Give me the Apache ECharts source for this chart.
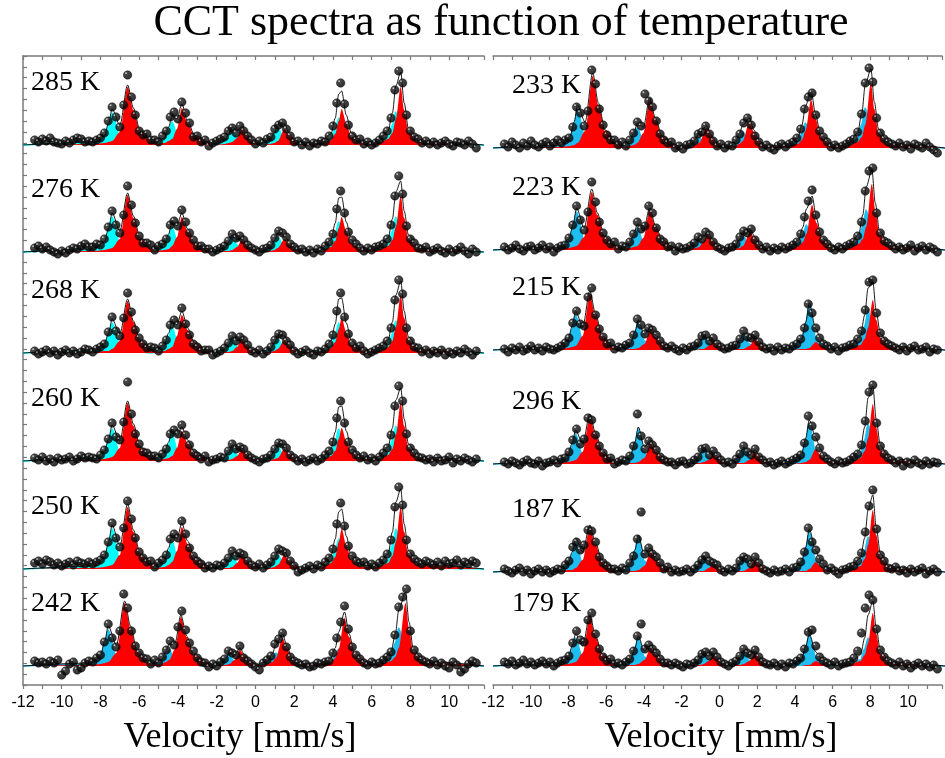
<!DOCTYPE html>
<html>
<head>
<meta charset="utf-8">
<script src="https://cdn.jsdelivr.net/npm/echarts@6/dist/echarts.min.js"></script>
<style>html,body{margin:0;padding:0;background:#fff}#chart{width:945px;height:758px}</style>
</head>
<body>
<div id="chart"></div>
<script>
// Mössbauer spectra of CCT at twelve temperatures: measured counts (dots),
// the two fitted sextet subspectra (site A, site B) and their sum (fit line).

// equally spaced velocity channels of the measured spectra [mm/s]
const channelStart = -11.4;
const channelStep = 0.2;
const channelCount = 115;

// velocity tick labels of the bottom axes
const velocityTicks = [-12, -10, -8, -6, -4, -2, 0, 2, 4, 6, 8, 10];

const temperaturesLeft = ['285 K', '276 K', '268 K', '260 K', '250 K', '242 K'];
const temperaturesRight = ['233 K', '223 K', '215 K', '296 K', '187 K', '179 K'];

// velocities at which the fitted subspectra are tabulated
const knotsWarm = [-12, -8.3,-7.8,-7.58,-7.4,-7.0,-6.6,-6.3,-5.95,-5.3, -5.2,-4.7,-4.48,-4.3,-4.05,-3.8,-3.5,-3.15,-2.4, -2.1,-1.6,-1.38,-1.2,-0.95,-0.7,-0.46,-0.2,0.2, 0.25,0.75,0.97,1.15,1.5,1.74,2.0,2.4, 3.4,3.9,4.12,4.3,4.45,4.69,4.95,5.55, 6.35,6.85,7.07,7.25,7.5,7.68,7.9,8.4, 11.8];
const knots242 = [-12, -8.5,-8.0,-7.78,-7.6,-7.18,-6.75,-6.45,-6.1,-5.45, -5.35,-4.85,-4.63,-4.45,-4.15,-3.85,-3.55,-3.2,-2.45, -2.25,-1.75,-1.53,-1.35,-1.08,-0.8,-0.56,-0.3,0.1, 0.15,0.65,0.87,1.05,1.4,1.64,1.9,2.3, 3.4,3.9,4.12,4.3,4.6,4.84,5.1,5.7, 6.5,7.0,7.22,7.4,7.75,7.93,8.15,8.65, 11.8];
const knots233 = [-12, -8.45,-7.95,-7.73,-7.55,-7.15,-6.75,-6.45,-6.1,-5.45, -5.3,-4.8,-4.58,-4.4,-4.08,-3.75,-3.45,-3.1,-2.35, -2.05,-1.55,-1.33,-1.15,-0.75,-0.51,-0.25,0.15, 0.25,0.75,0.97,1.15,1.5,1.74,2.0,2.4, 3.55,4.05,4.27,4.45,4.75,4.99,5.25,5.85, 6.7,7.2,7.42,7.6,7.9,8.08,8.3,8.8, 11.8];
const knots223 = [-12, -8.5,-8.0,-7.78,-7.6,-7.2,-6.8,-6.5,-6.15,-5.5, -5.3,-4.8,-4.58,-4.4,-4.08,-3.75,-3.45,-3.1,-2.35, -2.05,-1.55,-1.33,-1.15,-0.93,-0.7,-0.46,-0.2,0.2, 0.25,0.75,0.97,1.15,1.55,1.79,2.05,2.45, 3.6,4.1,4.32,4.5,4.8,5.04,5.3,5.9, 6.75,7.25,7.47,7.65,7.95,8.13,8.35,8.85, 11.8];
const knotsCold = [-12, -8.55,-8.05,-7.83,-7.65,-7.28,-6.9,-6.6,-6.25,-5.6, -5.25,-4.75,-4.53,-4.35,-4.03,-3.7,-3.4,-3.05,-2.3, -1.8,-1.3,-1.08,-0.9,-0.65,-0.4,-0.16,0.1,0.3, 0.5,0.8,1.02,1.2,1.5,1.8,2.04,2.3,2.8, 3.75,4.25,4.47,4.65,5.0,5.24,5.5,6.1, 6.85,7.35,7.57,7.75,8.0,8.18,8.4,8.9, 11.8];

// ---- 285 K
const counts285 = [5,3,6,4,7,3,2,1,4,2,5,7,6,3,4, 3,5,7,12,24,38,28,18,40,70,48,30,14,10,11, 5,5,3,9,14,28,33,26,43,32, 22,8,9,3,5,-1,2,4,6,8, 14,17,12,19,14,9,5,1,4,2, 6,8,16,20,22,16,9,3,4,0, 3,-1,2,1,4,3,9,19,42,62, 41,20,9,5,6,1,3,0,2,5, 9,14,27,55,74,62,30,14,8,6, 2,4, 1,3,0,2,4,1,-1,3,2,0,4,1,-3];
const siteA285 = [0, 2,7,19,32,7,2,2,1,1, 1,5,14,23,10,4,2,1,1, 1,3,9,15,7,2,1,1,0, 1,4,10,17,5,2,1,1, 2,6,16,27,18,8,4,1, 2,8,20,33,15,7,3,1, 0];
const siteB285 = [0, 1,2,3,4,13,58,35,13,3, 1,2,4,6,16,37,22,9,2, 0,1,2,3,7,17,10,4,1, 0,1,2,4,16,10,4,1, 2,5,11,24,36,22,8,2, 2,6,12,26,58,35,13,3, 0];
// ---- 276 K
const counts276 = [4,6,3,5,2,0,-2,1,-1,2,4,3,6,8,5, 5,8,7,13,25,41,27,19,37,66,47,29,16,9,9, 7,2,6,8,13,27,31,26,42,30, 19,12,6,6,3,3,0,2,4,6, 11,18,14,16,12,7,4,2,0,3, 4,7,14,21,19,15,8,5,2,3, 0,2,-1,3,1,6,10,18,43,61, 39,20,12,8,4,1,4,2,5,6, 8,13,27,56,76,58,26,13,9,4, 3,5, 0,2,4,1,-1,3,0,2,5,1,-2,3,0];
const siteA276 = [0, 2,8,21,35,8,2,2,1,1, 2,6,15,25,11,4,2,1,1, 1,3,9,15,7,2,1,1,0, 1,3,9,15,4,2,1,0, 2,7,18,30,20,9,4,1, 2,8,21,35,15,7,4,1, 0];
const siteB276 = [0, 1,2,3,4,13,57,34,13,3, 1,2,3,6,15,35,21,8,2, 0,1,1,2,5,12,7,3,1, 0,1,2,4,13,8,3,1, 1,5,11,24,35,21,8,2, 2,6,12,25,56,34,13,3, 0];
// ---- 268 K
const counts268 = [2,-1,1,3,0,2,-2,1,3,0,2,-1,1,4,3, 1,4,6,9,21,36,22,17,35,60,41,23,15,9,5, 6,5,2,7,13,28,33,28,45,29, 18,9,6,2,3,3,-2,0,2,5, 10,17,12,16,13,8,2,0,3,-1, 2,6,13,19,18,12,8,2,-1,1, 3,0,-2,2,1,4,9,18,42,60, 36,19,10,5,7,2,-1,1,3,5, 7,12,25,53,73,59,25,12,6,5, 1,3, -1,2,0,3,-2,1,-1,2,0,4,1,-2,2];
const siteA268 = [0, 2,7,18,30,7,2,1,1,0, 2,6,16,26,11,4,2,1,1, 1,3,8,14,6,2,1,1,0, 1,3,8,14,4,2,1,0, 2,7,18,30,20,9,4,1, 2,7,19,32,14,7,3,1, 0];
const siteB268 = [0, 1,2,2,4,12,52,31,12,3, 1,2,4,6,17,38,23,9,2, 0,1,1,2,6,14,8,3,1, 0,1,2,4,13,8,3,1, 1,5,11,24,35,21,8,2, 2,6,12,26,58,35,13,3, 0];
// ---- 260 K
const counts260 = [3,1,4,0,2,-1,3,1,2,4,0,2,5,3,4, 3,2,6,11,22,38,24,21,39,79,47,27,17,9,8, 5,5,3,7,12,27,31,27,36,26, 16,8,5,2,5,-1,1,2,4,3, 10,17,12,14,12,6,3,1,-1,2, 3,6,12,18,17,13,6,3,0,2, -1,1,3,0,2,6,10,19,43,60, 38,19,11,6,3,5,1,3,0,4, 8,13,26,55,75,60,27,13,8,4, 3,1, 2,-1,3,0,1,4,-2,2,0,3,1,-1,2];
const siteA260 = [0, 2,7,19,32,7,2,2,1,1, 2,6,16,27,12,4,3,2,1, 1,3,8,14,6,2,1,1,0, 1,3,8,14,4,2,1,0, 2,7,19,32,22,10,4,1, 2,8,21,35,15,7,4,1, 0];
const siteB260 = [0, 1,2,3,4,13,58,35,13,3, 1,2,3,5,13,30,18,7,2, 0,1,1,2,5,12,7,3,1, 0,1,2,3,12,7,3,1, 1,5,10,22,33,20,8,2, 2,6,12,26,58,35,13,3, 0];
// ---- 250 K
const counts250 = [6,8,5,9,7,4,6,3,5,7,4,8,6,5,7, 5,7,9,14,27,46,31,22,41,68,50,31,17,11,7, 8,2,6,9,14,30,35,31,48,35, 21,13,8,5,1,3,1,4,3,6, 11,18,13,16,14,8,4,2,5,1, 4,7,13,20,18,16,8,3,-3,-1, 1,3,0,4,2,7,11,20,45,66, 43,23,13,8,6,7,3,5,2,6, 9,15,29,62,82,64,29,15,10,7, 5,8, 6,4,7,3,8,5,6,9,4,7,5,8,6];
const siteA250 = [0, 2,9,24,40,9,3,2,1,1, 2,6,17,28,12,4,3,2,1, 1,3,8,14,6,2,1,1,0, 1,3,8,14,4,2,1,0, 2,7,18,30,20,9,4,1, 2,9,24,40,18,8,4,1, 0];
const siteB250 = [0, 1,2,3,4,14,62,37,14,4, 1,2,4,7,18,42,25,10,3, 0,1,1,2,6,14,8,3,1, 0,1,2,4,14,8,3,1, 2,6,12,27,40,24,9,2, 2,6,13,27,62,37,14,4, 0];
// ---- 242 K
const counts242 = [5,3,4,2,5,3,6,-9,-5,2,4,-4,-2,3,5, 4,8,11,24,42,28,19,35,72,58,35,20,13,8,7, 2,6,3,9,16,25,21,39,55,36, 23,15,8,4,3,-1,2,0,4,7, 15,13,11,20,8,5,2,-1,-4,3, 6,10,22,27,33,19,9,5,3,1, 2,-1,0,3,2,4,5,13,28,44, 60,37,19,11,7,3,1,4,2,3, 6,9,14,31,59,69,77,35,16,9, 6,4, 2,5,1,3,0,-2,4,1,-6,-3,2,5,3];
const siteA242 = [0, 2,8,22,36,8,2,2,1,1, 1,4,10,16,6,2,1,1,0, 1,3,7,11,4,2,1,1,0, 1,3,8,13,4,2,1,0, 1,4,10,17,6,3,2,1, 2,9,23,38,11,6,3,1, 0];
const siteB242 = [0, 1,2,3,4,13,63,38,14,4, 1,2,4,6,17,49,29,11,3, 0,1,1,2,6,16,10,4,1, 1,2,4,8,28,17,6,2, 2,4,8,17,48,29,11,3, 2,5,9,18,63,38,14,4, 0];
// ---- 233 K
const counts233 = [4,1,6,3,0,5,2,7,3,1,4,6,2,5,8, 5,8,10,21,41,35,22,37,78,64,39,23,13,8,8, 3,6,2,8,15,26,22,54,47,41, 27,14,8,5,6,0,2,-1,3,4, 7,14,16,22,14,7,2,4,0,3, 2,8,14,25,30,23,12,6,1,3, 0,-2,2,4,1,4,6,10,19,39, 51,55,33,17,11,6,1,3,0,2, 4,7,9,16,34,65,80,66,30,15, 9,6, 4,2,5,1,3,-1,4,2,0,5,1,-2,-5];
const siteA233 = [0, 2,9,23,38,9,3,2,1,1, 1,5,12,20,6,2,1,1,0, 1,2,6,10,2,1,1,0, 1,4,10,16,4,2,1,0, 2,6,15,25,9,4,2,1, 2,9,24,40,14,7,4,1, 0];
const siteB233 = [0, 1,2,3,5,17,72,43,17,4, 1,2,3,5,15,48,29,11,3, 1,1,3,5,20,12,5,1, 1,2,4,7,26,16,6,2, 2,4,8,17,48,29,11,3, 2,6,11,23,65,39,15,4, 0];
// ---- 223 K
const counts223 = [3,0,2,5,1,-1,3,4,0,2,5,1,3,-2,2, 4,5,12,25,44,30,20,38,68,48,28,17,10,6,8, 1,4,3,8,16,28,21,24,44,37, 22,11,8,3,4,-1,3,1,2,4, 7,13,11,18,15,8,3,1,-1,2, 3,6,13,19,17,21,10,5,1,3, -1,2,0,3,1,3,5,8,16,33, 49,60,35,18,10,6,2,0,3,1, 4,6,8,14,28,59,79,82,37,17, 9,7, 4,1,3,0,2,5,-1,2,4,0,3,1,-2];
const siteA223 = [0, 2,9,23,38,9,3,2,1,1, 1,5,13,22,7,2,1,1,0, 1,2,6,10,5,2,1,1,0, 1,3,8,14,3,2,1,0, 2,6,15,25,9,4,2,1, 2,9,24,40,14,7,4,1, 0];
const siteB223 = [0, 1,2,3,4,13,58,35,13,3, 1,2,3,4,12,40,24,9,2, 0,1,2,3,8,16,10,4,1, 1,1,2,4,18,11,4,1, 1,4,8,16,45,27,10,3, 2,6,11,23,66,40,15,4, 0];
// ---- 215 K
const counts215 = [1,-2,2,0,3,-1,1,4,0,2,-1,3,1,0,2, 4,7,12,27,39,26,24,53,62,35,21,13,6,7,1, 3,2,5,7,15,31,25,16,22,20, 15,9,4,2,4,1,-1,2,0,3, 4,7,14,15,9,12,6,3,1,2, 4,5,11,19,13,12,15,8,3,1, 2,-1,3,0,2,1,4,6,11,22, 46,37,22,12,6,4,1,3,-1,2, 3,5,6,11,19,40,68,70,37,17, 9,6, 4,2,0,3,-1,2,4,0,1,3,-2,1,0];
const siteA215 = [0, 2,8,21,35,9,3,2,1,1, 2,6,17,28,9,3,2,1,1, 1,3,8,14,6,2,1,1,0, 1,4,10,16,6,2,1,1,0, 3,10,27,45,13,7,4,1, 2,9,24,40,18,8,4,1, 0];
const siteB215 = [0, 1,2,3,4,14,56,34,13,3, 0,1,1,2,6,20,12,5,1, 0,0,1,1,4,8,5,2,1, 0,1,1,1,4,12,7,3,1, 0,1,1,2,8,5,2,0, 2,5,11,22,50,30,12,3, 0];
// ---- 296 K
const counts296 = [2,0,3,1,-1,2,4,1,0,3,-2,1,2,4,1, 5,6,12,24,35,20,25,46,44,29,18,11,5,6,0, 2,4,3,8,18,50,28,15,23,19, 14,7,4,2,2,-1,2,3,0,1, 4,7,15,16,9,13,8,4,1,2, 0,5,10,18,12,9,15,7,4,1, 2,-1,1,3,0,2,4,6,9,21, 48,38,27,16,8,5,2,0,3,1, 2,4,7,10,19,43,72,79,41,18, 10,6, 4,1,3,-2,2,0,4,1,-1,3,0,2,1];
const siteA296 = [0, 2,7,18,30,8,2,2,1,1, 2,8,21,35,11,4,2,1,1, 1,3,9,15,7,2,1,1,0, 1,4,10,16,6,2,1,1,0, 2,9,24,40,11,6,3,1, 2,9,24,40,18,8,4,1, 0];
const siteB296 = [0, 1,2,3,4,12,48,29,11,3, 0,1,1,2,6,20,12,5,1, 0,1,1,2,4,10,6,2,1, 0,1,1,1,4,12,7,3,1, 0,1,2,4,15,9,3,1, 2,6,13,26,60,36,14,4, 0];
// ---- 187 K
const counts187 = [3,1,-1,2,4,0,2,-2,1,3,0,2,-1,1,3, 2,7,11,25,30,22,27,42,41,30,15,9,6,3,3, 1,4,2,9,16,33,60,18,24,18, 15,9,3,5,0,2,0,1,3,0, 3,7,12,16,11,9,7,2,0,3, 1,4,11,15,13,8,15,9,3,1, -1,2,0,1,3,0,4,5,10,20, 44,30,22,13,8,2,4,1,-2,2, 3,5,6,11,19,40,66,82,43,17, 11,4, 3,5,1,2,-1,3,0,2,4,-2,1,3,0];
const siteA187 = [0, 2,7,18,30,8,2,2,1,1, 2,8,21,35,11,4,2,1,1, 1,3,9,15,7,2,1,1,0, 1,3,9,15,5,2,1,1,0, 2,9,24,40,11,6,3,1, 2,8,21,35,15,7,4,1, 0];
const siteB187 = [0, 1,2,2,4,12,45,27,10,3, 0,1,1,2,6,20,12,5,1, 0,0,1,1,4,8,5,2,1, 0,1,1,1,4,12,7,3,1, 0,1,1,3,10,6,2,1, 2,6,13,27,62,37,14,4, 0];
// ---- 179 K
const counts179 = [4,2,5,1,3,6,2,4,1,3,5,2,4,0,3, 5,6,10,23,35,26,24,46,53,32,17,9,5,7,2, 3,1,4,7,15,30,42,17,21,17, 13,7,3,3,1,3,1,-1,2,1, 3,6,12,14,10,14,9,4,2,0, 3,5,10,17,13,11,16,9,4,2, 1,3,0,2,-1,3,2,5,8,17, 34,36,20,9,5,3,1,4,0,2, 3,4,8,15,33,58,71,66,37,16, 9,5, 3,1,4,0,2,-2,1,3,0,2,-1,1,-3];
const siteA179 = [0, 2,6,17,28,7,2,1,1,0, 2,6,17,28,9,3,2,1,1, 1,3,7,11,5,2,1,1,0, 1,3,8,14,5,2,1,1,0, 2,7,19,31,9,5,2,1, 2,6,17,28,12,6,3,1, 0];
const siteB179 = [0, 1,2,3,4,13,49,29,11,3, 0,1,1,2,6,18,11,4,1, 0,1,1,2,5,11,7,3,1, 0,1,1,2,5,13,8,3,1, 0,0,1,1,5,3,1,0, 2,5,11,23,53,32,12,3, 0];

// ---------------------------------------------------------------- layout
const colLeft = [23, 493];          // px, left edge of each column frame
const colWidth = [461, 459];        // px
const frameTop = 56, frameBottom = 685;
const rowBase = [                   // px, zero-absorption line of each row
  [145, 252, 353, 461, 569, 666],
  [148, 250, 350, 464, 572, 666]
];
const labelX = [31, 512];
const CYAN = '#00ffff', SKY = '#1ebef0', RED = '#ff0000';

const panels = [
  { label: temperaturesLeft[0], col: 0, row: 0, knots: knotsWarm, counts: counts285, siteA: siteA285, siteB: siteB285, fillA: CYAN },
  { label: temperaturesLeft[1], col: 0, row: 1, knots: knotsWarm, counts: counts276, siteA: siteA276, siteB: siteB276, fillA: CYAN },
  { label: temperaturesLeft[2], col: 0, row: 2, knots: knotsWarm, counts: counts268, siteA: siteA268, siteB: siteB268, fillA: CYAN },
  { label: temperaturesLeft[3], col: 0, row: 3, knots: knotsWarm, counts: counts260, siteA: siteA260, siteB: siteB260, fillA: CYAN },
  { label: temperaturesLeft[4], col: 0, row: 4, knots: knotsWarm, counts: counts250, siteA: siteA250, siteB: siteB250, fillA: CYAN },
  { label: temperaturesLeft[5], col: 0, row: 5, knots: knots242, counts: counts242, siteA: siteA242, siteB: siteB242, fillA: SKY },
  { label: temperaturesRight[0], col: 1, row: 0, knots: knots233, counts: counts233, siteA: siteA233, siteB: siteB233, fillA: SKY },
  { label: temperaturesRight[1], col: 1, row: 1, knots: knots223, counts: counts223, siteA: siteA223, siteB: siteB223, fillA: SKY },
  { label: temperaturesRight[2], col: 1, row: 2, knots: knotsCold, counts: counts215, siteA: siteA215, siteB: siteB215, fillA: SKY },
  { label: temperaturesRight[3], col: 1, row: 3, knots: knotsCold, counts: counts296, siteA: siteA296, siteB: siteB296, fillA: SKY },
  { label: temperaturesRight[4], col: 1, row: 4, knots: knotsCold, counts: counts187, siteA: siteA187, siteB: siteB187, fillA: SKY },
  { label: temperaturesRight[5], col: 1, row: 5, knots: knotsCold, counts: counts179, siteA: siteA179, siteB: siteB179, fillA: SKY }
];

const channels = [];
for (let i = 0; i < channelCount; i++) channels.push(+(channelStart + i * channelStep).toFixed(2));

// black glossy sphere used for the measured points
const sphere = new echarts.graphic.RadialGradient(0.33, 0.3, 0.6, [
  { offset: 0, color: '#ffffff' },
  { offset: 0.09, color: '#a8a8a8' },
  { offset: 0.24, color: '#1c1c1c' },
  { offset: 1, color: '#000000' }
]);

const grid = [], xAxis = [], yAxis = [], series = [], graphic = [];
const VMIN = -12, VMAX = 11.8;

panels.forEach((p, i) => {
  const base = rowBase[p.col][p.row];
  grid.push({ left: colLeft[p.col], width: colWidth[p.col], top: base - 90, height: 100 });
  xAxis.push({ gridIndex: i, type: 'value', min: VMIN, max: VMAX, show: false });
  yAxis.push({ gridIndex: i, type: 'value', min: -10, max: 90, show: false });

  const a = p.knots.map((v, k) => [v, p.siteA[k]]);
  const b = p.knots.map((v, k) => [v, p.siteB[k]]);
  const fit = p.knots.map((v, k) => [v, p.siteA[k] + p.siteB[k]]);
  const pts = channels.map((v, k) => [v, p.counts[k]]);

  series.push({
    type: 'line', xAxisIndex: i, yAxisIndex: i, data: a, symbol: 'none',
    smooth: 0.3, smoothMonotone: 'x', z: 2, silent: true,
    lineStyle: { color: p.fillA, width: 1.5 }, areaStyle: { color: p.fillA, opacity: 1 }
  });
  series.push({
    type: 'line', xAxisIndex: i, yAxisIndex: i, data: b, symbol: 'none',
    smooth: 0.3, smoothMonotone: 'x', z: 3, silent: true,
    lineStyle: { width: 0 }, areaStyle: { color: RED, opacity: 1 }
  });
  series.push({
    type: 'line', xAxisIndex: i, yAxisIndex: i, data: fit, symbol: 'none',
    smooth: 0.3, smoothMonotone: 'x', z: 4, silent: true,
    lineStyle: { color: '#000', width: 0.9 }
  });
  series.push({
    type: 'scatter', xAxisIndex: i, yAxisIndex: i, data: pts, symbol: 'circle',
    symbolSize: 8.5, z: 5, silent: true, clip: false,
    itemStyle: { color: sphere, borderColor: '#000', borderWidth: 0.5 }
  });

  graphic.push({
    type: 'text', z: 10,
    style: {
      text: p.label, x: labelX[p.col], y: base - 62,
      font: '28px "Liberation Serif"', fill: '#000',
      textAlign: 'left', textVerticalAlign: 'middle'
    }
  });
});

// outer frames of both columns: velocity axis below, tick rows on top, left axis
const AXIS_GREY = '#7a7a7a';
[0, 1].forEach(col => {
  const gi = grid.length;
  grid.push({ left: colLeft[col], width: colWidth[col], top: frameTop, height: frameBottom - frameTop });
  xAxis.push({
    gridIndex: gi, type: 'value', position: 'bottom', min: VMIN, max: VMAX, interval: 1,
    axisLine: { show: true, onZero: false, lineStyle: { color: AXIS_GREY, width: 1.5 } },
    axisTick: { show: true, inside: false, length: 4, lineStyle: { color: AXIS_GREY, width: 1.2 } },
    axisLabel: {
      interval: 0, margin: 10, color: '#000', fontSize: 16, fontFamily: '"Liberation Sans"',
      formatter: v => (velocityTicks.indexOf(Math.round(v)) >= 0 && Math.abs(v - Math.round(v)) < 1e-6 ? String(Math.round(v)) : '')
    },
    splitLine: { show: false }
  });
  xAxis.push({
    gridIndex: gi, type: 'value', position: 'top', min: VMIN, max: VMAX, interval: 1,
    axisLine: { show: true, onZero: false, lineStyle: { color: AXIS_GREY, width: 1.5 } },
    axisTick: { show: true, inside: true, length: 4, lineStyle: { color: AXIS_GREY, width: 1.2 } },
    axisLabel: { show: false }, splitLine: { show: false }
  });
  yAxis.push({
    gridIndex: gi, type: 'value', position: 'left', min: 0, max: 58, interval: 1, show: col === 0,
    axisLine: { show: true, onZero: false, lineStyle: { color: AXIS_GREY, width: 1.5 } },
    axisTick: { show: true, inside: true, length: 4, lineStyle: { color: AXIS_GREY, width: 1.2 } },
    axisLabel: { show: false }, splitLine: { show: false }
  });
  series.push({ type: 'scatter', xAxisIndex: xAxis.length - 2, yAxisIndex: yAxis.length - 1, data: [] });

  graphic.push({
    type: 'text', z: 10,
    style: {
      text: 'Velocity [mm/s]', x: col === 0 ? 240 : 721, y: 738,
      font: '36px "Liberation Serif"', fill: '#000',
      textAlign: 'center', textVerticalAlign: 'middle'
    }
  });
});

graphic.push({
  type: 'text', z: 10,
  style: {
    text: 'CCT spectra as function of temperature', x: 501, y: 23,
    font: '44px "Liberation Serif"', fill: '#000',
    textAlign: 'center', textVerticalAlign: 'middle'
  }
});

const chart = echarts.init(document.getElementById('chart'), null, { renderer: 'canvas' });
chart.setOption({
  animation: false,
  backgroundColor: '#ffffff',
  grid, xAxis, yAxis, series, graphic
});
</script>
</body>
</html>
